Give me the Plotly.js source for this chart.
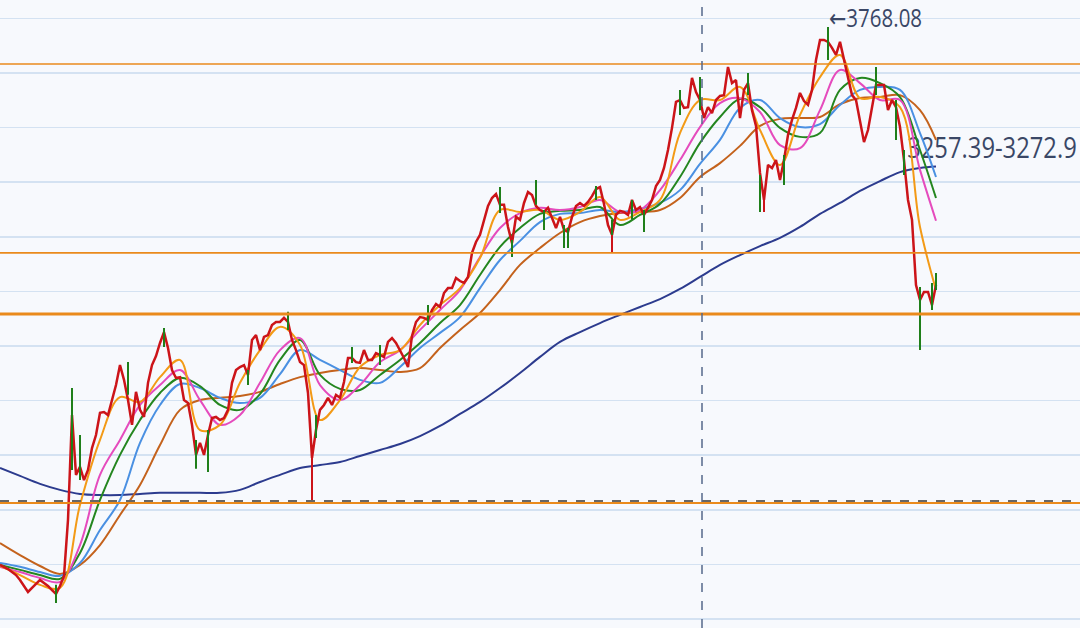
<!DOCTYPE html>
<html>
<head>
<meta charset="utf-8">
<script src="https://cdn.plot.ly/plotly-3.0.1.min.js"></script>
<style>html,body{margin:0;padding:0;background:#f7f9fd;}#chart{width:1080px;height:628px;}</style>
</head>
<body>
<div id="chart"></div>
<script>
// Close prices, one per candle (index 0..234)
const closes = [
1798,1791,1783,1772,1761,1743,1721,1699,1714,1728,
1743,1732,1721,1706,1692,1721,1758,1963,2347,2128,
2157,2109,2146,2226,2274,2355,2358,2347,2402,2457,
2530,2476,2402,2311,2432,2366,2340,2465,2530,2563,
2611,2651,2593,2512,2483,2486,2402,2391,2311,2201,
2245,2201,2274,2336,2340,2329,2336,2366,2465,2512,
2523,2530,2494,2622,2640,2585,2633,2640,2677,2688,
2688,2703,2688,2622,2585,2541,2530,2428,2190,2292,
2366,2384,2410,2384,2421,2410,2468,2556,2556,2541,
2538,2585,2549,2549,2574,2567,2560,2615,2629,2611,
2585,2556,2523,2637,2688,2706,2703,2695,2732,2754,
2743,2794,2812,2812,2849,2838,2831,2853,2941,2981,
3007,3062,3113,3142,3157,3117,3117,3036,2977,3073,
3062,3124,3164,3153,3113,3098,3091,3106,3069,3032,
3073,3025,3018,3073,3113,3124,3113,3128,3149,3175,
3182,3120,3043,3007,3080,3095,3091,3080,3135,3098,
3109,3080,3106,3135,3186,3208,3252,3318,3399,3494,
3501,3472,3475,3582,3530,3501,3435,3475,3453,3501,
3516,3519,3622,3563,3574,3435,3538,3563,3464,3406,
3234,3135,3263,3252,3281,3208,3281,3373,3428,3472,
3527,3497,3483,3538,3648,3721,3721,3714,3692,3666,
3714,3648,3582,3519,3501,3428,3347,3391,3475,3556,
3556,3556,3464,3501,3475,3402,3281,3135,3062,2823,
2769,2798,2798,2750,2823
];

// Wicks that stick out of the price line
const greenWickIdx  = [14,18,20,32,41,49,52,62,72,79,88,95,107,125,128,134,136,141,142,149,153,158,161,170,175,187,190,196,207,219,224,226,230,233,234];
const greenWickHigh = [1725,2446,2274,2541,2666,2256,2292,2512,2725,2347,2596,2604,2750,3182,2988,3208,3098,3043,3032,3186,3062,3135,3098,3538,3585,3600,3226,3300,3768.08,3622,3501,3318,2816,2831,2867];
const greenWickLow  = [1659,2146,2109,2421,2596,2150,2138,2457,2659,2263,2538,2530,2677,3087,2926,3117,3025,2959,2959,3135,2988,3062,3018,3446,3464,3519,3091,3190,3648,3519,3355,3226,2585,2732,2805];
const redWickIdx  = [78,153,191];
const redWickHigh = [2190,3007,3135];
const redWickLow  = [2029,2944,3091];

// Moving averages, read every 5th candle
const maIdx = [0,5,10,15,20,25,30,35,40,45,50,55,60,65,70,75,80,85,90,95,100,105,110,115,120,125,130,135,140,145,150,155,160,165,170,175,180,185,190,195,200,205,210,215,220,225,230,234];
const ma5 = [1794,1761,1725,1714,2018,2256,2413,2395,2486,2549,2292,2311,2465,2585,2670,2604,2329,2402,2523,2567,2585,2677,2750,2812,2922,3098,3091,3098,3062,3091,3146,3062,3091,3135,3380,3501,3501,3549,3391,3263,3446,3585,3666,3508,3512,3475,3036,2805];
const ma10 = [1791,1772,1750,1736,1871,2128,2256,2384,2457,2512,2402,2311,2347,2465,2585,2629,2457,2402,2457,2541,2585,2659,2732,2805,2926,3032,3087,3106,3098,3109,3135,3091,3098,3171,3281,3402,3490,3508,3457,3336,3325,3464,3611,3563,3501,3501,3245,3059];
const ma20 = [1798,1780,1761,1747,1842,2036,2201,2329,2428,2483,2453,2384,2366,2424,2549,2622,2494,2443,2439,2494,2549,2611,2684,2750,2860,2963,3032,3084,3095,3098,3109,3043,3080,3120,3219,3344,3439,3505,3475,3399,3366,3380,3538,3582,3563,3512,3318,3142];
const ma30 = [1805,1791,1772,1758,1805,1926,2036,2245,2384,2461,2446,2410,2391,2410,2497,2585,2549,2512,2476,2465,2523,2593,2648,2706,2812,2915,2985,3054,3084,3087,3098,3091,3102,3124,3171,3267,3355,3472,3501,3435,3402,3413,3483,3538,3549,3538,3380,3219];
const ma60 = [1878,1834,1794,1765,1798,1871,1981,2091,2237,2366,2402,2410,2417,2432,2461,2486,2501,2512,2519,2512,2505,2519,2593,2659,2721,2805,2897,2959,3014,3054,3076,3087,3091,3098,3142,3219,3270,3333,3406,3432,3435,3439,3486,3508,3512,3519,3464,3355];
const ma250 = [2153,2124,2095,2073,2058,2054,2054,2058,2062,2062,2062,2062,2073,2102,2128,2153,2164,2175,2197,2219,2241,2270,2307,2351,2395,2446,2501,2560,2615,2651,2684,2714,2743,2772,2809,2853,2897,2933,2966,2996,3036,3084,3124,3168,3204,3237,3252,3257.39];

// Reference levels
const levelValues = [3633, 2941, 2717, 2025];
const levelWidths = [1.6, 1.6, 3, 2];
const dashedLevel = 2032;
const markerIdx = 175.5;
const peakArrow = '←';
const peakValue = '3768.08';
const peakIdx = 207.3;
const peakLabelY = 3768;
const rangeLabel = '3257.39-3272.9';
const rangeIdx = 226.8;
const rangeLabelY = 3290;

const idx = closes.map((_, i) => i);

function wickTrace(ix, hi, lo, color) {
  const x = [], y = [];
  ix.forEach((v, k) => { x.push(v, v, null); y.push(lo[k], hi[k], null); });
  return {x, y, type: 'scatter', mode: 'lines', line: {color, width: 2}, hoverinfo: 'skip', showlegend: false};
}

const labelColor = '#3a4766';
const labelFamily = 'Open Sans, Noto Sans, sans-serif';

const traces = [
  {x: [rangeIdx], y: [rangeLabelY], type: 'scatter', mode: 'text', text: [rangeLabel], textposition: 'middle right',
   textfont: {family: labelFamily, size: 29, color: labelColor}, showlegend: false, hoverinfo: 'skip', cliponaxis: false},
  {x: maIdx, y: ma250, type: 'scatter', mode: 'lines', line: {color: '#2c3b8e', width: 2, shape: 'spline'}, showlegend: false},
  {x: maIdx, y: ma60, type: 'scatter', mode: 'lines', line: {color: '#c4621c', width: 2, shape: 'spline'}, showlegend: false},
  {x: maIdx, y: ma30, type: 'scatter', mode: 'lines', line: {color: '#4a90e2', width: 2, shape: 'spline'}, showlegend: false},
  {x: maIdx, y: ma20, type: 'scatter', mode: 'lines', line: {color: '#24861f', width: 2, shape: 'spline'}, showlegend: false},
  {x: maIdx, y: ma10, type: 'scatter', mode: 'lines', line: {color: '#e54bbd', width: 2, shape: 'spline'}, showlegend: false},
  {x: maIdx, y: ma5, type: 'scatter', mode: 'lines', line: {color: '#f39a16', width: 2, shape: 'spline'}, showlegend: false},
  {x: idx, y: closes, type: 'scatter', mode: 'lines', line: {color: '#cc1419', width: 2.5}, showlegend: false},
  wickTrace(greenWickIdx, greenWickHigh, greenWickLow, '#1f7f1a'),
  wickTrace(redWickIdx, redWickHigh, redWickLow, '#cc1419'),
  {x: [peakIdx], y: [peakLabelY], type: 'scatter', mode: 'text',
   text: ['<span style="font-family:DejaVu Sans">' + peakArrow + '</span>' + peakValue], textposition: 'middle right',
   textfont: {family: labelFamily, size: 25, color: labelColor}, showlegend: false, hoverinfo: 'skip', cliponaxis: false}
];

const shapes = levelValues.map((v, k) => ({
  type: 'line', xref: 'paper', x0: 0, x1: 1, yref: 'y', y0: v, y1: v,
  line: {color: '#ea8a1c', width: levelWidths[k]}, layer: 'above'
}));
shapes.push({type: 'line', xref: 'paper', x0: 0, x1: 1, yref: 'y', y0: dashedLevel, y1: dashedLevel,
  line: {color: '#666666', width: 2, dash: 'dash'}, layer: 'above'});
shapes.push({type: 'line', xref: 'x', x0: markerIdx, x1: markerIdx, yref: 'paper', y0: 0, y1: 1,
  line: {color: '#56688a', width: 1.5, dash: 'dash'}, layer: 'above'});

const layout = {
  width: 1080, height: 628,
  margin: {l: 0, r: 0, t: 0, b: 0},
  paper_bgcolor: '#f7f9fd', plot_bgcolor: '#f7f9fd',
  showlegend: false,
  xaxis: {range: [0, 270], showgrid: false, zeroline: false, showticklabels: false, ticks: '', showline: false, fixedrange: true},
  yaxis: {range: [1567, 3867.4], dtick: 200, tick0: 0, showgrid: true, gridcolor: '#d4e2f2', gridwidth: 1.5,
          zeroline: false, showticklabels: false, ticks: '', showline: false, fixedrange: true},
  shapes: shapes,
  hovermode: false
};

Plotly.newPlot('chart', traces, layout, {displayModeBar: false, staticPlot: true}).then(() => {
  // the reference labels are horizontally condensed
  const svg = document.querySelector('#chart .main-svg');
  const sr = svg.getBoundingClientRect();
  document.querySelectorAll('#chart .textpoint').forEach(g => {
    const r = g.getBoundingClientRect();
    const left = r.left - sr.left;
    g.setAttribute('transform', 'translate(' + left + ',0) scale(0.82,1) translate(' + (-left) + ',0)');
  });
});
</script>
</body>
</html>
